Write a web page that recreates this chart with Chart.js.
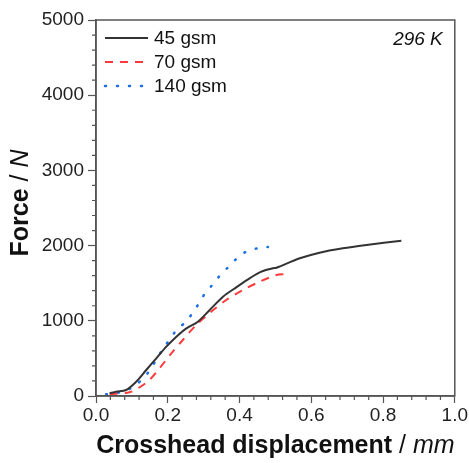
<!DOCTYPE html>
<html>
<head>
<meta charset="utf-8">
<script src="https://cdn.jsdelivr.net/npm/chart.js@4.4.1/dist/chart.umd.min.js"></script>
<style>
  html, body { margin: 0; padding: 0; background: #fff; }
  #wrap { width: 469px; height: 463px; }
</style>
</head>
<body>
<div id="wrap"><canvas id="forceChart" width="469" height="463"></canvas></div>
<script>
// crosshead displacement (mm) / force (N)
var gsm45X = [0.038, 0.056, 0.084, 0.112, 0.14, 0.168, 0.196, 0.224, 0.252, 0.284, 0.317, 0.354, 0.391, 0.428, 0.461, 0.493, 0.503, 0.568, 0.623, 0.688, 0.754, 0.851];
var gsm45Y = [36, 57, 80, 190, 346, 501, 656, 789, 900, 988, 1144, 1320, 1445, 1565, 1653, 1698, 1705, 1831, 1906, 1964, 2008, 2065];

var gsm70X = [0.038, 0.093, 0.117, 0.149, 0.177, 0.21, 0.242, 0.279, 0.321, 0.363, 0.41, 0.456, 0.503, 0.526];
var gsm70Y = [22, 49, 102, 213, 368, 568, 745, 944, 1121, 1277, 1410, 1520, 1609, 1622];

var gsm140X = [0.028, 0.061, 0.093, 0.117, 0.14, 0.158, 0.174, 0.191, 0.21, 0.228, 0.252, 0.27, 0.289, 0.305, 0.326, 0.345, 0.368, 0.391, 0.417, 0.449, 0.479];
var gsm140Y = [22, 44, 93, 169, 279, 403, 532, 656, 781, 900, 988, 1113, 1246, 1374, 1485, 1600, 1711, 1822, 1915, 1964, 1981];

var seriesLabels = ["45 gsm", "70 gsm", "140 gsm"];
var xTicks = [0, 0.2, 0.4, 0.6, 0.8, 1.0];
var yTicks = [0, 1000, 2000, 3000, 4000, 5000];

function pts(xs, ys) {
  return xs.map(function (x, i) { return { x: x, y: ys[i] }; });
}

var axisColor = "#555";
var fontFam = "'Liberation Sans', Arial, sans-serif";

var framePlugin = {
  id: "frame",
  afterDraw: function (chart) {
    var ctx = chart.ctx;
    var a = chart.chartArea;
    var xs = chart.scales.x, ys = chart.scales.y;
    ctx.save();
    ctx.strokeStyle = axisColor;
    ctx.lineWidth = 1.5;
    ctx.strokeRect(a.left, a.top, a.right - a.left, a.bottom - a.top);

    // minor ticks
    ctx.lineWidth = 1.2;
    ctx.beginPath();
    for (var v = 0; v <= 5000; v += 200) {
      if (v % 1000 === 0) continue;
      var py = ys.getPixelForValue(v);
      ctx.moveTo(a.left - 4, py);
      ctx.lineTo(a.left, py);
    }
    for (var k = 0; k <= 25; k++) {
      if (k % 5 === 0) continue;
      var px = xs.getPixelForValue(k * 0.04);
      ctx.moveTo(px, a.bottom);
      ctx.lineTo(px, a.bottom + 4);
    }
    ctx.stroke();

    // legend inside the plot
    ctx.font = "19px " + fontFam;
    ctx.textBaseline = "middle";
    chart.data.datasets.forEach(function (ds, i) {
      var yy = a.top + 18 + i * 24;
      ctx.strokeStyle = ds.borderColor;
      ctx.lineWidth = ds.borderWidth;
      ctx.lineCap = ds.borderCapStyle || "butt";
      ctx.setLineDash(ds.borderDash || []);
      ctx.beginPath();
      ctx.moveTo(a.left + 9, yy);
      ctx.lineTo(a.left + 52, yy);
      ctx.stroke();
      ctx.setLineDash([]);
      ctx.fillStyle = "#111";
      ctx.textAlign = "left";
      ctx.fillText(ds.label, a.left + 58, yy + 1);
    });

    ctx.font = "italic 19px " + fontFam;
    ctx.textAlign = "right";
    ctx.fillStyle = "#111";
    ctx.fillText("296 K", a.right - 12, a.top + 20);

    // x title: bold name, italic unit
    var t1 = "Crosshead displacement", t2 = " / ", t3 = "mm";
    ctx.textAlign = "left";
    ctx.textBaseline = "middle";
    ctx.font = "bold 25px " + fontFam;
    var w1 = ctx.measureText(t1).width;
    ctx.font = "25px " + fontFam;
    var w2 = ctx.measureText(t2).width;
    ctx.font = "italic 25px " + fontFam;
    var w3 = ctx.measureText(t3).width;
    var cx = (a.left + a.right) / 2 - (w1 + w2 + w3) / 2;
    var ty = 446;
    ctx.font = "bold 25px " + fontFam;
    ctx.fillText(t1, cx, ty);
    ctx.font = "25px " + fontFam;
    ctx.fillText(t2, cx + w1, ty);
    ctx.font = "italic 25px " + fontFam;
    ctx.fillText(t3, cx + w1 + w2, ty);

    // y title, rotated
    var s1 = "Force", s2 = " / ", s3 = "N";
    ctx.translate(21, 203);
    ctx.rotate(-Math.PI / 2);
    ctx.font = "bold 25px " + fontFam;
    var v1 = ctx.measureText(s1).width;
    ctx.font = "25px " + fontFam;
    var v2 = ctx.measureText(s2).width;
    ctx.font = "italic 25px " + fontFam;
    var v3 = ctx.measureText(s3).width;
    var sx = -(v1 + v2 + v3) / 2;
    ctx.font = "bold 25px " + fontFam;
    ctx.fillText(s1, sx, 0);
    ctx.font = "25px " + fontFam;
    ctx.fillText(s2, sx + v1, 0);
    ctx.font = "italic 25px " + fontFam;
    ctx.fillText(s3, sx + v1 + v2, 0);
    ctx.restore();
  }
};

var ctx = document.getElementById("forceChart").getContext("2d");
var myChart = new Chart(ctx, {
  type: "scatter",
  data: {
    datasets: [
      {
        label: seriesLabels[0],
        data: pts(gsm45X, gsm45Y),
        showLine: true,
        borderColor: "#333333",
        borderWidth: 2,
        pointRadius: 0,
        tension: 0.3,
      },
      {
        label: seriesLabels[1],
        data: pts(gsm70X, gsm70Y),
        showLine: true,
        borderColor: "#ff3b3b",
        borderWidth: 2,
        borderDash: [8, 7],
        pointRadius: 0,
        tension: 0.3,
      },
      {
        label: seriesLabels[2],
        data: pts(gsm140X, gsm140Y),
        showLine: true,
        borderColor: "#1e6fe6",
        borderWidth: 2.5,
        borderDash: [1, 11],
        borderCapStyle: "round",
        pointRadius: 0,
        tension: 0.3,
      },
    ],
  },
  options: {
    responsive: false,
    animation: false,
    layout: { padding: { top: 20, right: 14, left: 0, bottom: 0 } },
    plugins: { legend: { display: false }, tooltip: { enabled: false } },
    scales: {
      x: {
        type: "linear",
        min: 0,
        max: 1,
        afterBuildTicks: function (s) { s.ticks = xTicks.map(function (v) { return { value: v }; }); },
        afterFit: function (s) { s.height = 67; },
        ticks: {
          color: "#222",
          font: { family: fontFam, size: 19 },
          padding: 1,
          maxRotation: 0,
          callback: function (v) { return v.toFixed(1); },
        },
        grid: { drawOnChartArea: false, drawTicks: true, tickLength: 7, tickColor: axisColor, tickWidth: 1.2 },
        border: { color: axisColor, width: 1.5 },
      },
      y: {
        type: "linear",
        min: 0,
        max: 5000,
        afterBuildTicks: function (s) { s.ticks = yTicks.map(function (v) { return { value: v }; }); },
        afterFit: function (s) { s.width = 96; },
        ticks: {
          color: "#222",
          font: { family: fontFam, size: 19 },
          padding: 4,
          callback: function (v) { return String(v); },
        },
        grid: { drawOnChartArea: false, drawTicks: true, tickLength: 8, tickColor: axisColor, tickWidth: 1.2 },
        border: { color: axisColor, width: 1.5 },
      },
    },
  },
  plugins: [framePlugin],
});
</script>
</body>
</html>
